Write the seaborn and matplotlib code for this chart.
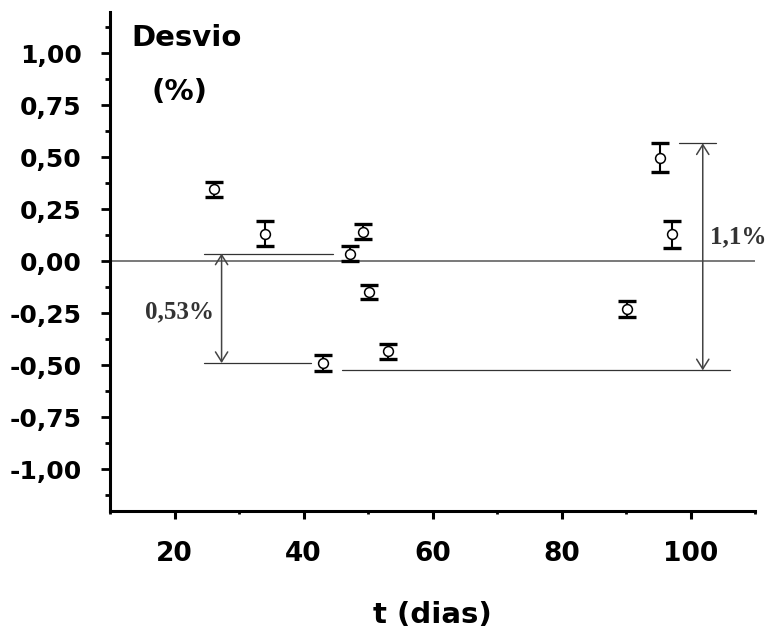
import numpy as np
import pandas as pd
import matplotlib
matplotlib.use("Agg")
import matplotlib.pyplot as plt
from matplotlib.ticker import MultipleLocator, FuncFormatter
import seaborn as sns

# ---- data ----
t_dias = [26.1, 34.1, 43.1, 47.2, 49.2, 50.1, 53.1, 90.2, 95.2, 97.2]
desvio = [0.345, 0.133, -0.488, 0.037, 0.141, -0.148, -0.434, -0.228, 0.498, 0.129]
erro = [0.038, 0.058, 0.038, 0.038, 0.036, 0.032, 0.038, 0.038, 0.070, 0.064]
x_ticks = [20, 40, 60, 80, 100]
y_ticks = [-1.00, -0.75, -0.50, -0.25, 0.00, 0.25, 0.50, 0.75, 1.00]
label_left = "0,53%"
label_right = "1,1%"

df = pd.DataFrame({"t": t_dias, "d": desvio, "e": erro})

sns.set_theme(style="ticks")
plt.rcParams["font.family"] = ["DejaVu Sans"]

W, H = 771, 637
fig = plt.figure(figsize=(W / 100, H / 100), dpi=100)
ax = fig.add_axes([110 / W, 1 - 510.7 / H, (755 - 110) / W, (510.7 - 11.7) / H])

ax.set_xlim(10, 110)
ax.set_ylim(-1.2, 1.2)

# zero line
ax.axhline(0, color="#555555", lw=1.1, zorder=1)

# annotation guide lines
gl = dict(color="#333333", lw=0.9, zorder=1)
ax.plot([24.6, 44.6], [0.037, 0.037], **gl)
ax.plot([24.6, 41.1], [-0.49, -0.49], **gl)
ax.plot([98.2, 104.0], [0.567, 0.567], **gl)
ax.plot([46.0, 106.2], [-0.525, -0.525], **gl)

arr = dict(arrowstyle="<->,head_length=0.35,head_width=0.22", color="#444444",
           lw=1.1, mutation_scale=20, shrinkA=0, shrinkB=0)
ax.annotate("", xy=(27.3, -0.49), xytext=(27.3, 0.037), arrowprops=arr)
ax.annotate("", xy=(101.9, -0.525), xytext=(101.9, 0.567), arrowprops=arr)

ax.text(26.2, -0.243, label_left, ha="right", va="center", fontsize=18,
        family="Liberation Serif", weight="bold", color="#333333")
ax.text(103.1, 0.117, label_right, ha="left", va="center", fontsize=18,
        family="Liberation Serif", weight="bold", color="#333333")

# error bars
ax.errorbar(df["t"], df["d"], yerr=df["e"], fmt="none", ecolor="black",
            elinewidth=1.5, capsize=6.8, capthick=2.4, zorder=2)
sns.scatterplot(data=df, x="t", y="d", ax=ax, marker="o", s=50,
                facecolor="white", edgecolor="black", linewidth=1.1, zorder=3)

# axes styling
sns.despine(ax=ax)
for s in ["left", "bottom"]:
    ax.spines[s].set_linewidth(2.2)
    ax.spines[s].set_color("black")

ax.xaxis.set_major_locator(MultipleLocator(20))
ax.xaxis.set_minor_locator(MultipleLocator(10))
ax.yaxis.set_major_locator(MultipleLocator(0.25))
ax.yaxis.set_minor_locator(MultipleLocator(0.125))
ax.set_xticks(x_ticks)
ax.set_yticks(y_ticks)
ax.yaxis.set_major_formatter(FuncFormatter(lambda v, p: f"{v:.2f}".replace(".", ",").replace("-0,00", "0,00")))
ax.xaxis.set_major_formatter(FuncFormatter(lambda v, p: f"{v:.0f}"))

ax.tick_params(axis="x", which="major", length=6, width=2.2, pad=16,
               labelsize=19, color="black")
ax.tick_params(axis="x", which="minor", length=2.5, width=2.0, color="black")
ax.tick_params(axis="y", which="major", length=6.5, width=2.0, pad=14,
               labelsize=18, color="black")
ax.tick_params(axis="y", which="minor", length=3.5, width=2.0, color="black")
for lab in ax.get_xticklabels() + ax.get_yticklabels():
    lab.set_fontweight("bold")
    lab.set_color("black")

ax.set_xlabel("")
ax.set_ylabel("")
ax.grid(False)

fig.text(131.7 / W, 1 - 38.3 / H, "Desvio", ha="left", va="center",
         fontsize=21, weight="bold", color="black")
fig.text(151.7 / W, 1 - 91.7 / H, "(%)", ha="left", va="center",
         fontsize=21, weight="bold", color="black")
fig.text(432 / W, 1 - 615 / H, "t (dias)", ha="center", va="center",
         fontsize=21, weight="bold", color="black")

fig.savefig("out.png", dpi=100, facecolor="white")
